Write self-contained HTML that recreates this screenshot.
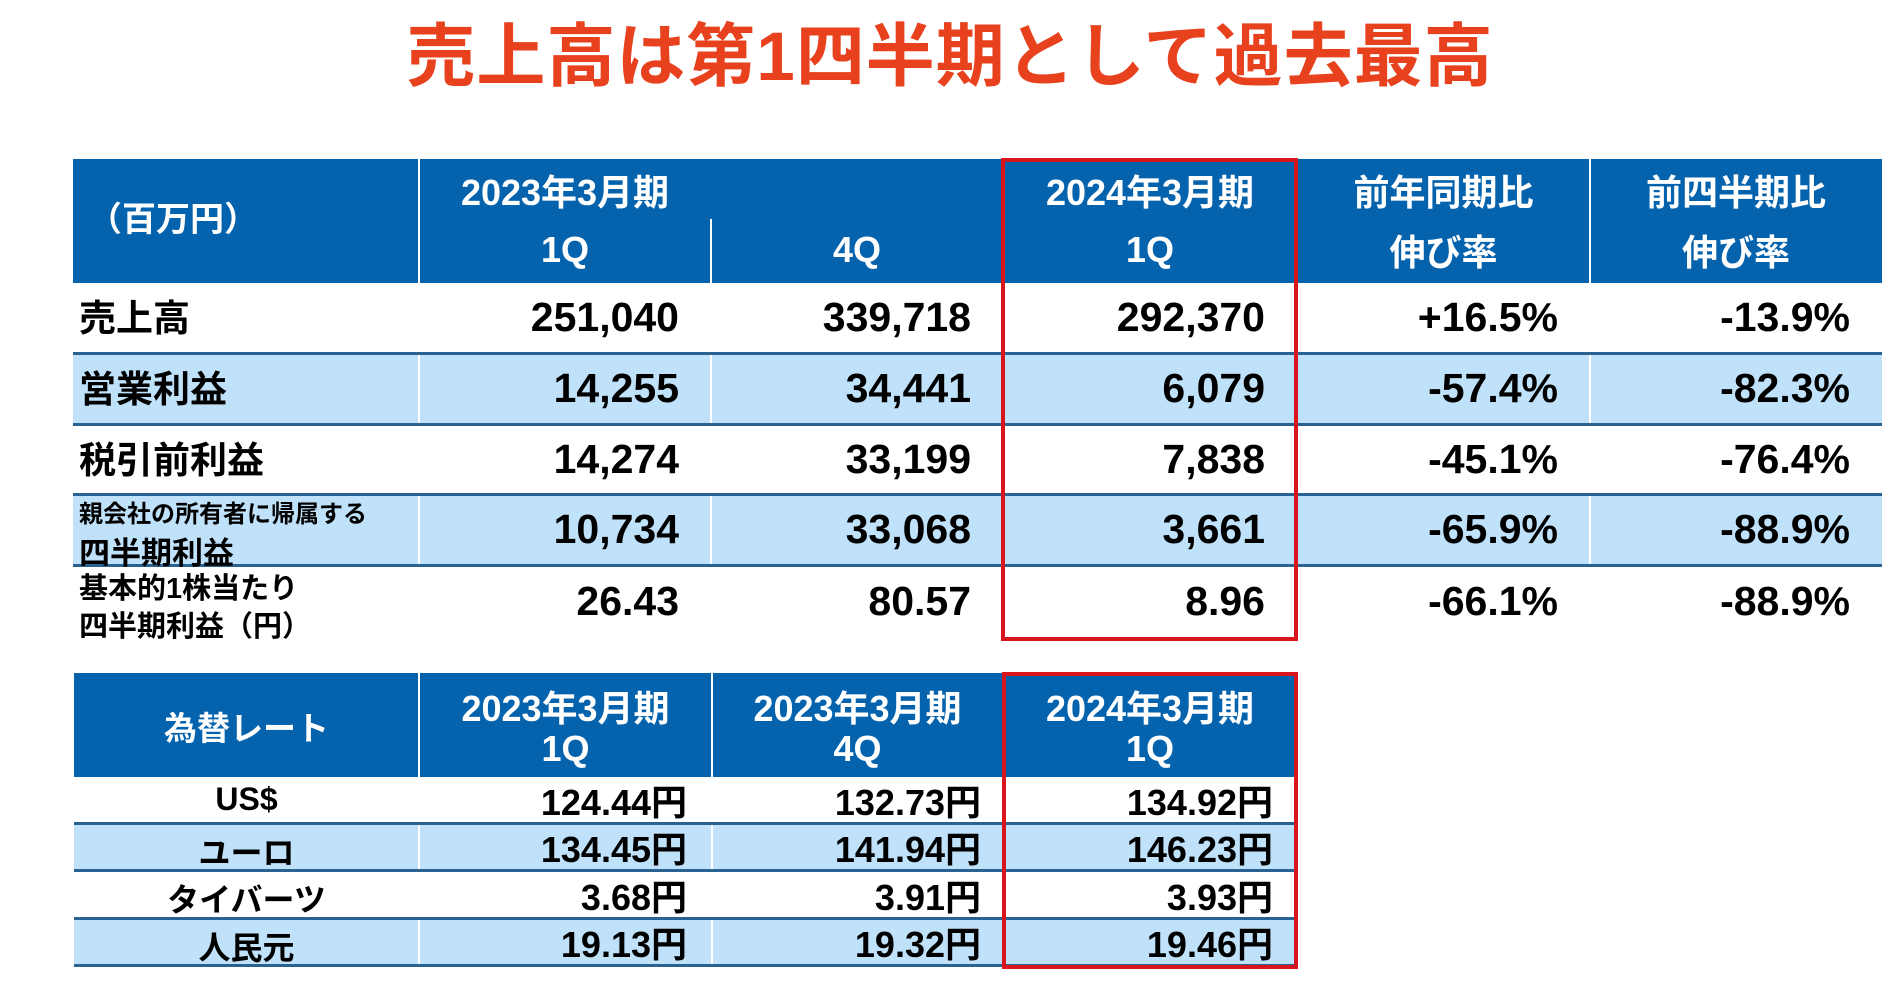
<!DOCTYPE html>
<html><head><meta charset="utf-8"><style>
body{margin:0;width:1900px;height:994px;background:#fff;position:relative;overflow:hidden;font-family:"Liberation Sans","Noto Sans CJK JP",sans-serif;font-weight:bold}
div{position:absolute;box-sizing:border-box}
.t{white-space:nowrap}
.h{background:#0563ad}
.lb{background:#bfe1f9}
.w{color:#fff}
.hl{height:3px;background:#2a6391}
.vw{width:2px;background:#fff}
.r{text-align:right}
.c{text-align:center}
</style></head><body>
<div class="t c" style="left:0;width:1900px;top:0px;font-size:69px;color:#e8411e;letter-spacing:1px">売上高は第1四半期として過去最高</div>

<!-- table 1 -->
<div class="h" style="left:73px;top:159px;width:1809px;height:124px"></div>
<div class="lb" style="left:73px;top:353px;width:1809px;height:71px"></div>
<div class="lb" style="left:73px;top:495px;width:1809px;height:70px"></div>
<div class="vw" style="left:418px;top:159px;height:124px"></div>
<div class="vw" style="left:710px;top:219px;height:64px"></div>
<div class="vw" style="left:1296px;top:159px;height:124px"></div>
<div class="vw" style="left:1589px;top:159px;height:124px"></div>
<div class="vw" style="left:418px;top:353px;height:71px"></div>
<div class="vw" style="left:710px;top:353px;height:71px"></div>
<div class="vw" style="left:1296px;top:353px;height:71px"></div>
<div class="vw" style="left:1589px;top:353px;height:71px"></div>
<div class="vw" style="left:418px;top:495px;height:70px"></div>
<div class="vw" style="left:710px;top:495px;height:70px"></div>
<div class="vw" style="left:1296px;top:495px;height:70px"></div>
<div class="vw" style="left:1589px;top:495px;height:70px"></div>
<div class="hl" style="left:73px;top:352px;width:1809px"></div>
<div class="hl" style="left:73px;top:423px;width:1809px"></div>
<div class="hl" style="left:73px;top:493px;width:1809px"></div>
<div class="hl" style="left:73px;top:564px;width:1809px"></div>

<div class="t w" style="left:88px;top:192px;font-size:34px">（百万円）</div>
<div class="t w c" style="left:419px;width:292px;top:164px;font-size:36px">2023年3月期</div>
<div class="t w c" style="left:419px;width:292px;top:229px;font-size:36px">1Q</div>
<div class="t w c" style="left:711px;width:292px;top:229px;font-size:36px">4Q</div>
<div class="t w c" style="left:1003px;width:294px;top:164px;font-size:36px">2024年3月期</div>
<div class="t w c" style="left:1003px;width:294px;top:229px;font-size:36px">1Q</div>
<div class="t w c" style="left:1297px;width:293px;top:164px;font-size:36px">前年同期比</div>
<div class="t w c" style="left:1297px;width:293px;top:224px;font-size:36px">伸び率</div>
<div class="t w c" style="left:1590px;width:292px;top:164px;font-size:36px">前四半期比</div>
<div class="t w c" style="left:1590px;width:292px;top:224px;font-size:36px">伸び率</div>

<div class="t" style="left:79px;top:288px;font-size:37px">売上高</div>
<div class="t" style="left:79px;top:359px;font-size:37px">営業利益</div>
<div class="t" style="left:79px;top:430px;font-size:37px">税引前利益</div>
<div class="t" style="left:79px;top:494px;font-size:24px">親会社の所有者に帰属する</div>
<div class="t" style="left:79px;top:528px;font-size:31px">四半期利益</div>
<div class="t" style="left:79px;top:565px;font-size:29px">基本的1株当たり</div>
<div class="t" style="left:79px;top:603px;font-size:29px">四半期利益（円）</div>

<div class="t r" style="left:419px;width:260px;top:294px;font-size:41px">251,040</div>
<div class="t r" style="left:711px;width:260px;top:294px;font-size:41px">339,718</div>
<div class="t r" style="left:1003px;width:262px;top:294px;font-size:41px">292,370</div>
<div class="t r" style="left:1297px;width:261px;top:294px;font-size:41px">+16.5%</div>
<div class="t r" style="left:1590px;width:260px;top:294px;font-size:41px">-13.9%</div>

<div class="t r" style="left:419px;width:260px;top:365px;font-size:41px">14,255</div>
<div class="t r" style="left:711px;width:260px;top:365px;font-size:41px">34,441</div>
<div class="t r" style="left:1003px;width:262px;top:365px;font-size:41px">6,079</div>
<div class="t r" style="left:1297px;width:261px;top:365px;font-size:41px">-57.4%</div>
<div class="t r" style="left:1590px;width:260px;top:365px;font-size:41px">-82.3%</div>

<div class="t r" style="left:419px;width:260px;top:436px;font-size:41px">14,274</div>
<div class="t r" style="left:711px;width:260px;top:436px;font-size:41px">33,199</div>
<div class="t r" style="left:1003px;width:262px;top:436px;font-size:41px">7,838</div>
<div class="t r" style="left:1297px;width:261px;top:436px;font-size:41px">-45.1%</div>
<div class="t r" style="left:1590px;width:260px;top:436px;font-size:41px">-76.4%</div>

<div class="t r" style="left:419px;width:260px;top:506px;font-size:41px">10,734</div>
<div class="t r" style="left:711px;width:260px;top:506px;font-size:41px">33,068</div>
<div class="t r" style="left:1003px;width:262px;top:506px;font-size:41px">3,661</div>
<div class="t r" style="left:1297px;width:261px;top:506px;font-size:41px">-65.9%</div>
<div class="t r" style="left:1590px;width:260px;top:506px;font-size:41px">-88.9%</div>

<div class="t r" style="left:419px;width:260px;top:578px;font-size:41px">26.43</div>
<div class="t r" style="left:711px;width:260px;top:578px;font-size:41px">80.57</div>
<div class="t r" style="left:1003px;width:262px;top:578px;font-size:41px">8.96</div>
<div class="t r" style="left:1297px;width:261px;top:578px;font-size:41px">-66.1%</div>
<div class="t r" style="left:1590px;width:260px;top:578px;font-size:41px">-88.9%</div>

<div style="left:1001px;top:158px;width:297px;height:483px;border:4px solid #d9161e"></div>

<!-- table 2 -->
<div class="h" style="left:74px;top:673px;width:1223px;height:104px"></div>
<div class="lb" style="left:74px;top:824px;width:1223px;height:46px"></div>
<div class="lb" style="left:74px;top:919px;width:1223px;height:46px"></div>
<div class="vw" style="left:418px;top:673px;height:292px"></div>
<div class="vw" style="left:711px;top:673px;height:292px"></div>
<div class="hl" style="left:74px;top:822px;width:1223px"></div>
<div class="hl" style="left:74px;top:869px;width:1223px"></div>
<div class="hl" style="left:74px;top:917px;width:1223px"></div>
<div class="hl" style="left:74px;top:964px;width:1223px"></div>

<div class="t w c" style="left:74px;width:345px;top:702px;font-size:33px">為替レート</div>
<div class="t w c" style="left:419px;width:293px;top:680px;font-size:36px">2023年3月期</div>
<div class="t w c" style="left:419px;width:293px;top:728px;font-size:36px">1Q</div>
<div class="t w c" style="left:712px;width:291px;top:680px;font-size:36px">2023年3月期</div>
<div class="t w c" style="left:712px;width:291px;top:728px;font-size:36px">4Q</div>
<div class="t w c" style="left:1003px;width:294px;top:680px;font-size:36px">2024年3月期</div>
<div class="t w c" style="left:1003px;width:294px;top:728px;font-size:36px">1Q</div>

<div class="t c" style="left:74px;width:345px;top:781px;font-size:32px">US$</div>
<div class="t c" style="left:74px;width:345px;top:828px;font-size:32px">ユーロ</div>
<div class="t c" style="left:74px;width:345px;top:875px;font-size:32px">タイバーツ</div>
<div class="t c" style="left:74px;width:345px;top:923px;font-size:32px">人民元</div>

<div class="t r" style="left:419px;width:268px;top:774px;font-size:36px">124.44円</div>
<div class="t r" style="left:712px;width:269px;top:774px;font-size:36px">132.73円</div>
<div class="t r" style="left:1003px;width:270px;top:774px;font-size:36px">134.92円</div>
<div class="t r" style="left:419px;width:268px;top:821px;font-size:36px">134.45円</div>
<div class="t r" style="left:712px;width:269px;top:821px;font-size:36px">141.94円</div>
<div class="t r" style="left:1003px;width:270px;top:821px;font-size:36px">146.23円</div>
<div class="t r" style="left:419px;width:268px;top:869px;font-size:36px">3.68円</div>
<div class="t r" style="left:712px;width:269px;top:869px;font-size:36px">3.91円</div>
<div class="t r" style="left:1003px;width:270px;top:869px;font-size:36px">3.93円</div>
<div class="t r" style="left:419px;width:268px;top:916px;font-size:36px">19.13円</div>
<div class="t r" style="left:712px;width:269px;top:916px;font-size:36px">19.32円</div>
<div class="t r" style="left:1003px;width:270px;top:916px;font-size:36px">19.46円</div>

<div style="left:1002px;top:672px;width:296px;height:297px;border:4px solid #d9161e"></div>
</body></html>
